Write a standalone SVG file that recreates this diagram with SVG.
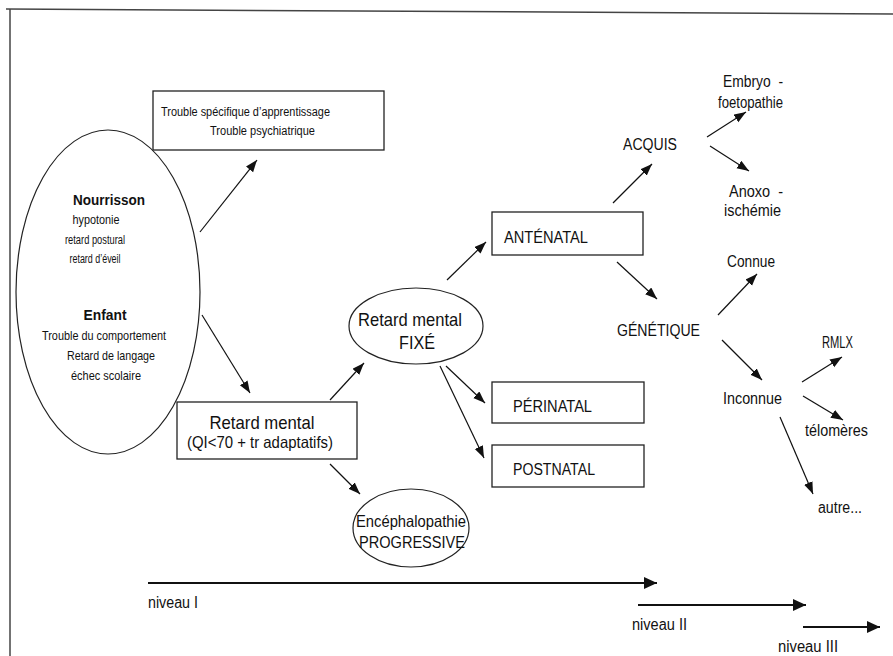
<svg xmlns="http://www.w3.org/2000/svg" width="893" height="656" viewBox="0 0 893 656">
<style>
text{font-family:"Liberation Sans",Arial,sans-serif;fill:#111;}
.s11{font-size:12.5px}
.s12{font-size:13px}
.s14{font-size:16px}
.s15{font-size:16.5px}
.s17{font-size:18.5px}
.b{font-weight:bold;font-size:15.5px}
.box{fill:#fff;stroke:#222;stroke-width:1.3}
.ell{fill:#fff;stroke:#222;stroke-width:1.2}
.con{stroke:#111;stroke-width:1.2;fill:none;marker-end:url(#ah)}
.lvl{stroke:#111;stroke-width:2.2;fill:none;marker-end:url(#ahL)}
.frame{stroke:#444;stroke-width:1.5;fill:none}
</style>
<defs>
<marker id="ah" markerUnits="userSpaceOnUse" markerWidth="13" markerHeight="10" refX="12" refY="4.5" orient="auto">
<path d="M0,0 L12,4.5 L0,9 z" fill="#111"/>
</marker>
<marker id="ahL" markerUnits="userSpaceOnUse" markerWidth="14" markerHeight="13" refX="13" refY="6" orient="auto">
<path d="M0,0 L13,6 L0,12 z" fill="#111"/>
</marker>
</defs>
<rect width="893" height="656" fill="#fff"/>
<g id="frame">
<path class="frame" d="M6,9 L893,14"/>
<path class="frame" d="M10,9 L10,656"/>
</g>
<g id="connectors">
<path class="con" d="M200,232 L257,160"/>
<path class="con" d="M202,315 L250,393"/>
<path class="con" d="M330,400 L364,363"/>
<path class="con" d="M330,464 L360,494"/>
<path class="con" d="M447,280 L486,242"/>
<path class="con" d="M446,366 L485,403"/>
<path class="con" d="M440,366 L484,458"/>
<path class="con" d="M613,203 L652,164"/>
<path class="con" d="M617,262 L657,299"/>
<path class="con" d="M707,137 L746,112"/>
<path class="con" d="M710,146 L749,171"/>
<path class="con" d="M718,315 L757,274"/>
<path class="con" d="M722,340 L762,380"/>
<path class="con" d="M802,382 L842,357"/>
<path class="con" d="M803,396 L843,420"/>
<path class="con" d="M780,417 L813,494"/>
<path class="lvl" d="M148,583 L657,583"/>
<path class="lvl" d="M638,605 L806,605"/>
<path class="lvl" d="M803,627 L880,627"/>
</g>
<g id="symptomes">
<ellipse class="ell" cx="108" cy="292" rx="92" ry="162"/>
<text class="b" x="109" y="205" text-anchor="middle" textLength="72" lengthAdjust="spacingAndGlyphs">Nourrisson</text>
<text class="s11" x="96" y="224" text-anchor="middle" textLength="47" lengthAdjust="spacingAndGlyphs">hypotonie</text>
<text class="s11" x="95" y="244" text-anchor="middle" textLength="60" lengthAdjust="spacingAndGlyphs">retard postural</text>
<text class="s11" x="95" y="263" text-anchor="middle" textLength="51" lengthAdjust="spacingAndGlyphs">retard d’éveil</text>
<text class="b" x="105" y="320" text-anchor="middle" textLength="43" lengthAdjust="spacingAndGlyphs">Enfant</text>
<text class="s12" x="104" y="340" text-anchor="middle" textLength="124" lengthAdjust="spacingAndGlyphs">Trouble du comportement</text>
<text class="s12" x="111" y="360" text-anchor="middle" textLength="88" lengthAdjust="spacingAndGlyphs">Retard de langage</text>
<text class="s12" x="106" y="380" text-anchor="middle" textLength="70" lengthAdjust="spacingAndGlyphs">échec scolaire</text>
</g>
<g id="trouble">
<rect class="box" x="153" y="91" width="231" height="59"/>
<text class="s11" x="161" y="116" textLength="169" lengthAdjust="spacingAndGlyphs">Trouble spécifique d’apprentissage</text>
<text class="s11" x="210" y="135" textLength="105" lengthAdjust="spacingAndGlyphs">Trouble psychiatrique</text>
</g>
<g id="retard-mental">
<rect class="box" x="177" y="402" width="180" height="57"/>
<text class="s17" x="262" y="429" text-anchor="middle" textLength="105" lengthAdjust="spacingAndGlyphs">Retard mental</text>
<text class="s15" x="260" y="448" text-anchor="middle" textLength="146" lengthAdjust="spacingAndGlyphs">(QI&lt;70 + tr adaptatifs)</text>
</g>
<g id="fixe">
<ellipse class="ell" cx="416" cy="326" rx="67" ry="38"/>
<text class="s17" x="410" y="326" text-anchor="middle" textLength="104" lengthAdjust="spacingAndGlyphs">Retard mental</text>
<text class="s17" x="417" y="349" text-anchor="middle" textLength="36" lengthAdjust="spacingAndGlyphs">FIXÉ</text>
</g>
<g id="encephalopathie">
<ellipse class="ell" cx="411" cy="528" rx="58" ry="39"/>
<text class="s15" x="411" y="527" text-anchor="middle" textLength="110" lengthAdjust="spacingAndGlyphs">Encéphalopathie</text>
<text class="s15" x="412" y="548" text-anchor="middle" textLength="106" lengthAdjust="spacingAndGlyphs">PROGRESSIVE</text>
</g>
<g id="antenatal">
<rect class="box" x="492" y="212" width="151" height="43"/>
<text class="s14" x="504" y="243" textLength="84" lengthAdjust="spacingAndGlyphs">ANTÉNATAL</text>
</g>
<g id="perinatal">
<rect class="box" x="492" y="382" width="152" height="41"/>
<text class="s14" x="513" y="412" textLength="79" lengthAdjust="spacingAndGlyphs">PÉRINATAL</text>
</g>
<g id="postnatal">
<rect class="box" x="492" y="445" width="152" height="42"/>
<text class="s14" x="513" y="475" textLength="82" lengthAdjust="spacingAndGlyphs">POSTNATAL</text>
</g>
<g id="acquis"><text class="s14" x="623" y="150" textLength="54" lengthAdjust="spacingAndGlyphs">ACQUIS</text></g>
<g id="embryo">
<text class="s14" x="723" y="87" xml:space="preserve" textLength="60" lengthAdjust="spacingAndGlyphs">Embryo  -</text>
<text class="s14" x="718" y="108" textLength="65" lengthAdjust="spacingAndGlyphs">foetopathie</text>
</g>
<g id="anoxo">
<text class="s14" x="729" y="197" xml:space="preserve" textLength="54" lengthAdjust="spacingAndGlyphs">Anoxo  -</text>
<text class="s14" x="724" y="216" textLength="57" lengthAdjust="spacingAndGlyphs">ischémie</text>
</g>
<g id="genetique"><text class="s14" x="617" y="336" textLength="83" lengthAdjust="spacingAndGlyphs">GÉNÉTIQUE</text></g>
<g id="connue"><text class="s14" x="727" y="267" textLength="48" lengthAdjust="spacingAndGlyphs">Connue</text></g>
<g id="inconnue"><text class="s14" x="723" y="404" textLength="59" lengthAdjust="spacingAndGlyphs">Inconnue</text></g>
<g id="rmlx"><text class="s14" x="822" y="348" textLength="31" lengthAdjust="spacingAndGlyphs">RMLX</text></g>
<g id="telomeres"><text class="s14" x="805" y="436" textLength="63" lengthAdjust="spacingAndGlyphs">télomères</text></g>
<g id="autre"><text class="s14" x="818" y="513" textLength="44" lengthAdjust="spacingAndGlyphs">autre...</text></g>
<g id="niveaux">
<text class="s14" x="148" y="608" textLength="50" lengthAdjust="spacingAndGlyphs">niveau I</text>
<text class="s14" x="632" y="630" textLength="55" lengthAdjust="spacingAndGlyphs">niveau II</text>
<text class="s14" x="778" y="652" textLength="60" lengthAdjust="spacingAndGlyphs">niveau III</text>
</g>
</svg>
